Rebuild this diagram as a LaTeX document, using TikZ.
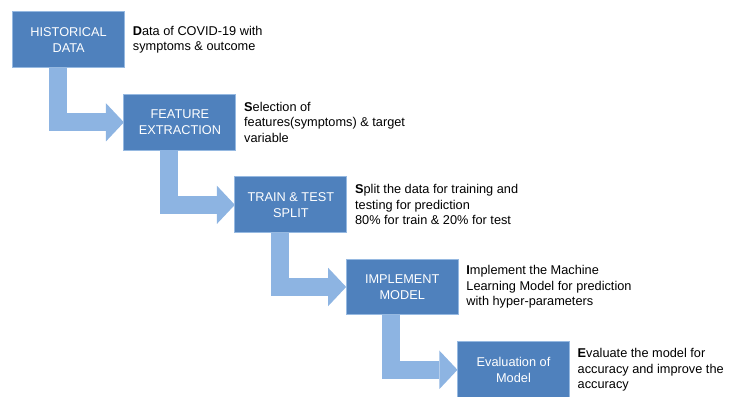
\documentclass[tikz,border=0pt]{standalone}
\usepackage{fontspec}
\setmainfont{Liberation Sans}
\usetikzlibrary{positioning,arrows.meta}
\definecolor{boxblue}{RGB}{79,129,189}
\definecolor{boxedge}{RGB}{150,185,225}
\definecolor{arrowblue}{RGB}{141,180,226}
\tikzset{
  stepbox/.style={draw=boxedge, line width=0.8pt, fill=boxblue, text=white, minimum width=3.15cm, minimum height=1.57cm, align=center, inner sep=2pt, outer sep=0pt, font=\fontsize{10.2}{12.8}\selectfont},
  stepnote/.style={align=left, inner sep=0pt, font=\fontsize{10.2}{12.4}\selectfont},
  bentarrow/.style={draw=arrowblue, line width=14.4pt, -{Triangle[length=14.4pt, width=30.6pt, line width=0pt]}}
}

\begin{document}
\begin{tikzpicture}
  \useasboundingbox (0,0) rectangle (20.81,-11.16);
  % the five steps, stepping down to the right
  \node[stepbox] (hist) at (1.93,-1.12) {HISTORICAL\\ DATA};
  \node[stepbox] (feat) at (5.06,-3.44) {FEATURE\\ EXTRACTION};
  \node[stepbox] (split) at (8.18,-5.76) {TRAIN \& TEST\\ SPLIT};
  \node[stepbox] (impl) at (11.31,-8.07) {IMPLEMENT\\ MODEL};
  \node[stepbox] (eval) at (14.44,-10.40) {Evaluation of\\ Model};
  % notes beside each step
  \node[stepnote, right=6.4pt of hist] (histnote) {\textbf{D}ata of COVID-19 with\\ symptoms \& outcome};
  \node[stepnote, right=6.4pt of feat] (featnote) {\textbf{S}election of\\ features(symptoms) \& target\\ variable};
  \node[stepnote, right=6.4pt of split] (splitnote) {\textbf{S}plit the data for training and\\ testing for prediction\\ 80\% for train \& 20\% for test};
  \node[stepnote, right=6.4pt of impl] (implnote) {\textbf{I}mplement the Machine\\ Learning Model for prediction\\ with hyper-parameters};
  \node[stepnote, right=6.4pt of eval] (evalnote) {\textbf{E}valuate the model for\\ accuracy and improve the\\ accuracy};
  % bent arrows between steps
  \draw[bentarrow] ([xshift=36pt]hist.south west) |- (feat.west);
  \draw[bentarrow] ([xshift=36pt]feat.south west) |- (split.west);
  \draw[bentarrow] ([xshift=36pt]split.south west) |- (impl.west);
  \draw[bentarrow] ([xshift=36pt]impl.south west) |- (eval.west);
\end{tikzpicture}
\end{document}
